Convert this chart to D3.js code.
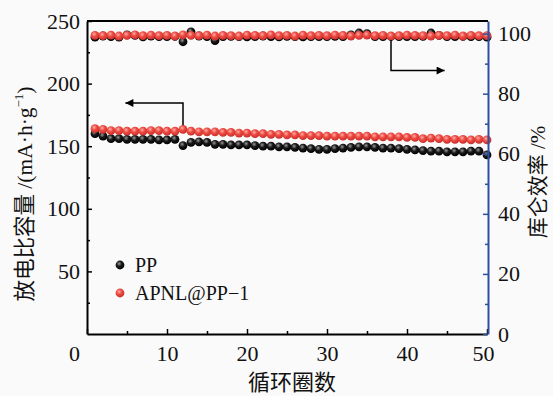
<!DOCTYPE html>
<html><head><meta charset="utf-8">
<script src="https://cdn.jsdelivr.net/npm/d3@7"></script>
<style>body{margin:0;background:#fafafa}svg{display:block}</style>
</head><body>
<script>
const cycles = d3.range(1, 51);
const ppCapacity = [160,158,156,156,155.5,155.5,155.5,155.5,155,155,155.5,150.5,153,153.5,153,151.5,151.5,151,151,151,150.5,150,150,149.5,149.5,149,148.5,148,147.5,147.5,148,148.5,149,149.5,149.5,149,148.5,148.5,148,147.5,147,146.5,146,146,145.5,145.5,145.5,146,146,143];
const apnlCapacity = [164,163.5,162.5,162.5,162,162,162,162.5,162.5,162,162,163.5,162,161.5,161.5,161.5,161,161,160.5,160.5,160,160,159.5,159.5,159,159,158.5,158.5,158.5,158,158,158,158,158,158,157.5,157.5,157.5,157.5,157,157,156,156.5,156,155.5,155.5,155.5,155,155.5,155];
const ppEfficiency = [98.8,99.2,99,98.8,99.6,99.4,98.9,99.2,99,99,99.1,97.3,100.6,99.2,99,97.7,99,99.1,99,98.9,99,99.2,99,98.9,99.1,99,98.9,99,99,99,99.1,99,99.6,100.2,100,99,99,99.1,99,99,99,99.1,100.2,99.4,99,99,99.1,99,99,98.8];
const apnlEfficiency = [99.4,99.3,99.5,99.2,99.4,99.6,99.3,99.5,99.3,99.4,99.2,99.6,99.4,99.3,99.5,99.2,99.4,99.3,99.2,99.5,99.4,99.3,99.6,99.3,99.4,99.2,99.5,99.3,99.4,99.3,99.5,99.4,99.2,99.4,99.5,99.3,99.4,99.2,99.3,99.5,99.4,99.3,99.2,99.4,99.3,99.5,99.2,99.4,99.3,99.3];
const xTicks = [0,10,20,30,40,50];
const yLeftTicks = [50,100,150,200,250];
const yRightTicks = [0,20,40,60,80,100];
const seriesNames = ["PP","APNL@PP\u22121"];

const W = 553, H = 396;
const m = {l:87, r:488, t:21, b:334};
const svg = d3.select("body").append("svg").attr("width",W).attr("height",H).style("background","#fafafa");
const font = "'Liberation Serif','Times New Roman',serif";
const cjk = "'Noto Sans CJK SC',sans-serif";

const x = d3.scaleLinear().domain([0,50]).range([m.l,m.r-1]);
const yL = d3.scaleLinear().domain([0,250]).range([m.b,m.t]);
const yR = d3.scaleLinear().domain([0,104.2]).range([m.b,m.t]);

const defs = svg.append("defs");
function grad(id, hi, mid, lo){
  const g = defs.append("radialGradient").attr("id",id).attr("cx","40%").attr("cy","35%").attr("r","65%");
  g.append("stop").attr("offset","0%").attr("stop-color",hi);
  g.append("stop").attr("offset","45%").attr("stop-color",mid);
  g.append("stop").attr("offset","100%").attr("stop-color",lo);
}
grad("gBlack","#9a9a9a","#1a1a1a","#000");
grad("gRed","#ffb0a8","#ef4b43","#c8302a");

svg.append("line").attr("x1",m.l).attr("x2",m.r).attr("y1",m.t).attr("y2",m.t).attr("stroke","#000").attr("stroke-width",2);

function dots(data, yScale, fill){
  svg.append("g").selectAll("circle").data(data).join("circle")
    .attr("cx",(d,i)=>x(cycles[i])).attr("cy",d=>yScale(d)).attr("r",4.4).attr("fill",fill);
}
dots(ppEfficiency, yR, "url(#gBlack)");
dots(apnlEfficiency, yR, "url(#gRed)");
dots(ppCapacity, yL, "url(#gBlack)");
dots(apnlCapacity, yL, "url(#gRed)");

function styleAxis(g, color){
  g.selectAll(".domain").attr("stroke",color).attr("stroke-width",2);
  g.selectAll(".tick line").attr("stroke",color).attr("stroke-width",1.5);
  g.selectAll("text").attr("font-family",font).attr("font-size",22).attr("fill","#111");
}
const gx = svg.append("g").attr("transform",`translate(0,${m.b})`)
  .call(d3.axisBottom(x).tickValues(xTicks).tickSize(-5).tickSizeOuter(0).tickPadding(11));
styleAxis(gx,"#000");
gx.selectAll(".tick text").attr("dy","0.71em").attr("dx",(d)=>d===0?-13:(d===50?-4:0));
svg.append("g").attr("transform",`translate(0,${m.b})`)
  .call(d3.axisBottom(x).tickValues(d3.range(5,50,10)).tickSize(-3).tickFormat(""))
  .call(g=>{g.select(".domain").remove();g.selectAll("line").attr("stroke","#000").attr("stroke-width",1.5);});

const gl = svg.append("g").attr("transform",`translate(${m.l},0)`)
  .call(d3.axisLeft(yL).tickValues(yLeftTicks).tickSize(-5).tickSizeOuter(0).tickPadding(7));
styleAxis(gl,"#000");
svg.append("g").attr("transform",`translate(${m.l},0)`)
  .call(d3.axisLeft(yL).tickValues(d3.range(25,250,50)).tickSize(-3).tickFormat(""))
  .call(g=>{g.select(".domain").remove();g.selectAll("line").attr("stroke","#000").attr("stroke-width",1.5);});

const blue = "#2c4fa3";
const gr = svg.append("g").attr("transform",`translate(${m.r},0)`)
  .call(d3.axisRight(yR).tickValues(yRightTicks).tickSize(-5).tickSizeOuter(0).tickPadding(10));
styleAxis(gr,blue);
svg.append("g").attr("transform",`translate(${m.r},0)`)
  .call(d3.axisRight(yR).tickValues(d3.range(10,104,20)).tickSize(-3).tickFormat(""))
  .call(g=>{g.select(".domain").remove();g.selectAll("line").attr("stroke",blue).attr("stroke-width",1.5);});

svg.append("text").attr("transform",`translate(32,194) rotate(-90)`).attr("text-anchor","middle")
  .attr("font-size",21.5).attr("fill","#111")
  .call(t=>{
    t.append("tspan").attr("font-family",cjk).text("放电比容量");
    t.append("tspan").attr("font-family",font).text(" /(mA·h·g");
    t.append("tspan").attr("font-family",font).attr("font-size",13).attr("dy",-9).text("\u22121");
    t.append("tspan").attr("font-family",font).attr("dy",9).text(")");
  });
svg.append("text").attr("transform",`translate(545,182) rotate(-90)`).attr("text-anchor","middle")
  .attr("font-size",21).attr("fill","#111")
  .call(t=>{
    t.append("tspan").attr("font-family",cjk).text("库仑效率");
    t.append("tspan").attr("font-family",font).text(" /%");
  });
svg.append("text").attr("x",292).attr("y",390).attr("text-anchor","middle")
  .attr("font-family",cjk).attr("font-size",22).attr("fill","#111").text("循环圈数");

const leg = [{n:seriesNames[0],f:"url(#gBlack)",y:265},{n:seriesNames[1],f:"url(#gRed)",y:293}];
leg.forEach(d=>{
  svg.append("circle").attr("cx",120).attr("cy",d.y).attr("r",4.4).attr("fill",d.f);
  svg.append("text").attr("x",135).attr("y",d.y+7).attr("font-family",font).attr("font-size",20).attr("fill","#111").text(d.n);
});

defs.append("marker").attr("id","ah").attr("viewBox","0 0 10 10").attr("refX",10).attr("refY",5)
  .attr("markerWidth",16).attr("markerHeight",8).attr("markerUnits","userSpaceOnUse").attr("orient","auto")
  .append("path").attr("d","M0,0 L10,5 L0,10 Z").attr("fill","#000");
const line = d3.line();
svg.append("path").attr("d",line([[x(12),yL(apnlCapacity[11])-4],[x(12),103],[x(4.8),103]]))
  .attr("fill","none").attr("stroke","#000").attr("stroke-width",1.5).attr("marker-end","url(#ah)");
svg.append("path").attr("d",line([[x(38),yR(apnlEfficiency[37])+4],[x(38),70.5],[x(44.7),70.5]]))
  .attr("fill","none").attr("stroke","#000").attr("stroke-width",1.5).attr("marker-end","url(#ah)");
</script>
</body></html>
